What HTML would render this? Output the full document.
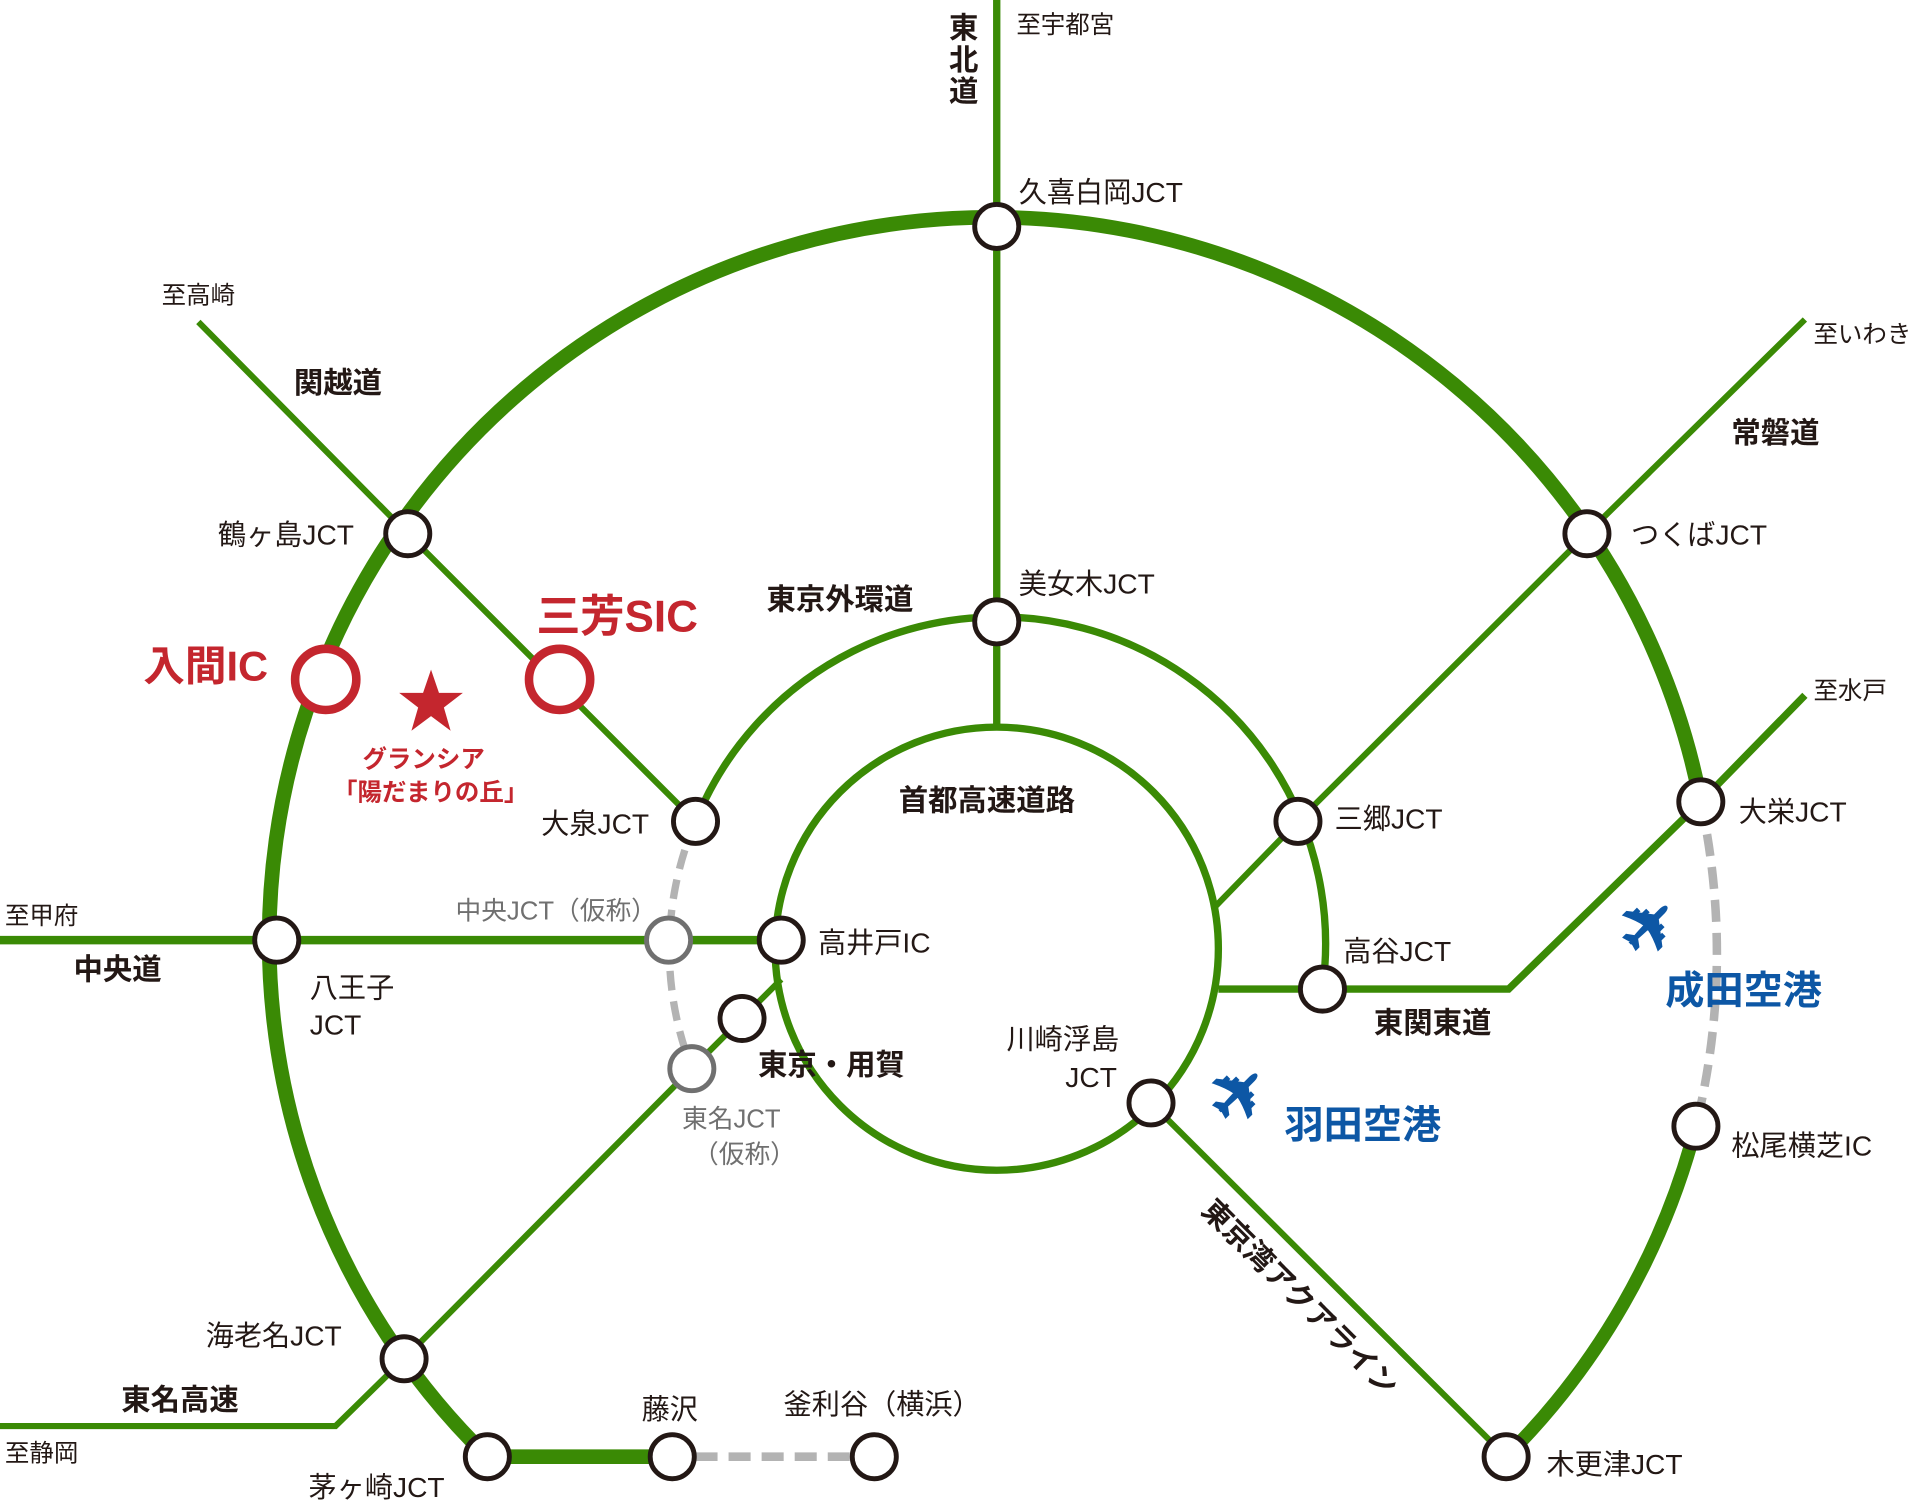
<!DOCTYPE html>
<html><head><meta charset="utf-8"><style>
html,body{margin:0;padding:0;background:#fff;}
svg{display:block;}
text{font-family:"Liberation Sans","Noto Sans CJK JP",sans-serif;}
</style></head><body>
<svg width="1920" height="1502" viewBox="0 0 1568 1227" preserveAspectRatio="none" xmlns="http://www.w3.org/2000/svg">
<g fill="none" stroke="#3a8a05" stroke-linecap="butt">
<path d="M 398 1190 A 590 590 0 1 1 1389 655" stroke-width="12"/>
<path d="M 1385 920 A 590 590 0 0 1 1230 1190" stroke-width="11"/>
<line x1="398" y1="1190" x2="549" y2="1190" stroke-width="12"/>
<line x1="814" y1="0" x2="814" y2="594" stroke-width="6"/>
<path d="M 568 671 A 267 267 0 0 1 1080 808" stroke-width="6"/>
<circle cx="814" cy="775" r="181" stroke-width="6"/>
<polyline points="162,263 333,436 568,671" stroke-width="5"/>
<polyline points="1474,261 1296,436 1060,671 993,740" stroke-width="5"/>
<polyline points="1474,568 1389,655 1232,808 995,808" stroke-width="6"/>
<line x1="0" y1="768" x2="638" y2="768" stroke-width="7"/>
<polyline points="0,1165 274,1165 330,1110 565,873 638,800" stroke-width="5"/>
<line x1="940" y1="901" x2="1230" y2="1190" stroke-width="5"/>
</g>
<g fill="none" stroke="#b3b3b3" stroke-width="7" stroke-dasharray="18,9">
<path d="M 1389 655 A 590 590 0 0 1 1385 920"/>
<line x1="568" y1="1190" x2="700" y2="1190"/>
</g>
<path d="M 568 671 A 267 267 0 0 0 565 873" fill="none" stroke="#b3b3b3" stroke-width="6" stroke-dasharray="16,9"/>
<g fill="#fff" stroke="#231815" stroke-width="4">
<circle cx="814" cy="185" r="18"/>
<circle cx="333" cy="436" r="18"/>
<circle cx="1296" cy="436" r="18"/>
<circle cx="814" cy="508" r="18"/>
<circle cx="568" cy="671" r="18"/>
<circle cx="1060" cy="671" r="18"/>
<circle cx="1389" cy="655" r="18"/>
<circle cx="226" cy="768" r="18"/>
<circle cx="638" cy="768" r="18"/>
<circle cx="1080" cy="808" r="18"/>
<circle cx="606" cy="832" r="18"/>
<circle cx="940" cy="901" r="18"/>
<circle cx="1385" cy="920" r="18"/>
<circle cx="330" cy="1110" r="18"/>
<circle cx="398" cy="1190" r="18"/>
<circle cx="549" cy="1190" r="18"/>
<circle cx="714" cy="1190" r="18"/>
<circle cx="1230" cy="1190" r="18"/>
</g>
<g fill="#fff" stroke="#707070" stroke-width="4">
<circle cx="546" cy="768" r="18"/>
<circle cx="565" cy="873" r="18"/>
</g>
<g fill="#fff" stroke="#c4262e" stroke-width="7">
<circle cx="266" cy="555" r="25"/>
<circle cx="457" cy="555" r="25"/>
</g>
<polygon points="352,547 358.5,566 378,566 362.5,578 368,597 352,585 336,597 341.5,578 326,566 345.5,566" fill="#c4262e"/>
<g fill="#231815" font-size="23">
<text x="830" y="27" font-size="20">至宇都宮</text>
<text x="832" y="165">久喜白岡JCT</text>
<text x="132" y="248" font-size="20">至高崎</text>
<text x="1481" y="280" font-size="20">至いわき</text>
<text x="178" y="445">鶴ヶ島JCT</text>
<text x="1332" y="445">つくばJCT</text>
<text x="832" y="485">美女木JCT</text>
<text x="1481" y="571" font-size="20">至水戸</text>
<text x="442" y="681">大泉JCT</text>
<text x="1090" y="677">三郷JCT</text>
<text x="1420" y="671">大栄JCT</text>
<text x="4" y="755" font-size="20">至甲府</text>
<text x="668" y="778">高井戸IC</text>
<text x="1097" y="785">高谷JCT</text>
<text x="253" y="815">八王子</text>
<text x="253" y="845">JCT</text>
<text x="822" y="857">川崎浮島</text>
<text x="870" y="888">JCT</text>
<text x="1414" y="944">松尾横芝IC</text>
<text x="168" y="1099">海老名JCT</text>
<text x="524" y="1159">藤沢</text>
<text x="640" y="1155">釜利谷（横浜）</text>
<text x="4" y="1194" font-size="20">至静岡</text>
<text x="252" y="1223">茅ヶ崎JCT</text>
<text x="1263" y="1204">木更津JCT</text>
</g>
<g fill="#707070" font-size="21">
<text x="372" y="751">中央JCT（仮称）</text>
<text x="557" y="921">東名JCT</text>
<text x="566" y="950">（仮称）</text>
</g>
<g fill="#231815" font-size="24" font-weight="bold">
<text x="775" y="31">東</text>
<text x="775" y="57">北</text>
<text x="775" y="83">道</text>
<text x="240" y="321">関越道</text>
<text x="1414" y="362">常磐道</text>
<text x="626" y="498">東京外環道</text>
<text x="734" y="662">首都高速道路</text>
<text x="60" y="800">中央道</text>
<text x="619" y="878">東京・用賀</text>
<text x="1122" y="844">東関東道</text>
<text x="99" y="1152">東名高速</text>
<text transform="translate(980,990) rotate(45)">東京湾アクアライン</text>
</g>
<g fill="#c4262e" font-weight="bold">
<text x="117" y="556" font-size="34">入間IC</text>
<text x="438" y="516" font-size="36">三芳SIC</text>
<text x="296" y="627" font-size="20">グランシア</text>
<text x="272" y="654" font-size="20">「陽だまりの丘」</text>
</g>
<g fill="#0d57a5" font-weight="bold">
<text x="1049" y="930" font-size="32">羽田空港</text>
<text x="1360" y="820" font-size="32">成田空港</text>
<text transform="translate(1015,897) rotate(-45)" font-size="58" text-anchor="middle" dominant-baseline="middle">✈</text>
<text transform="translate(1350,760) rotate(-45)" font-size="58" text-anchor="middle" dominant-baseline="middle">✈</text>
</g>
</svg>
</body></html>
